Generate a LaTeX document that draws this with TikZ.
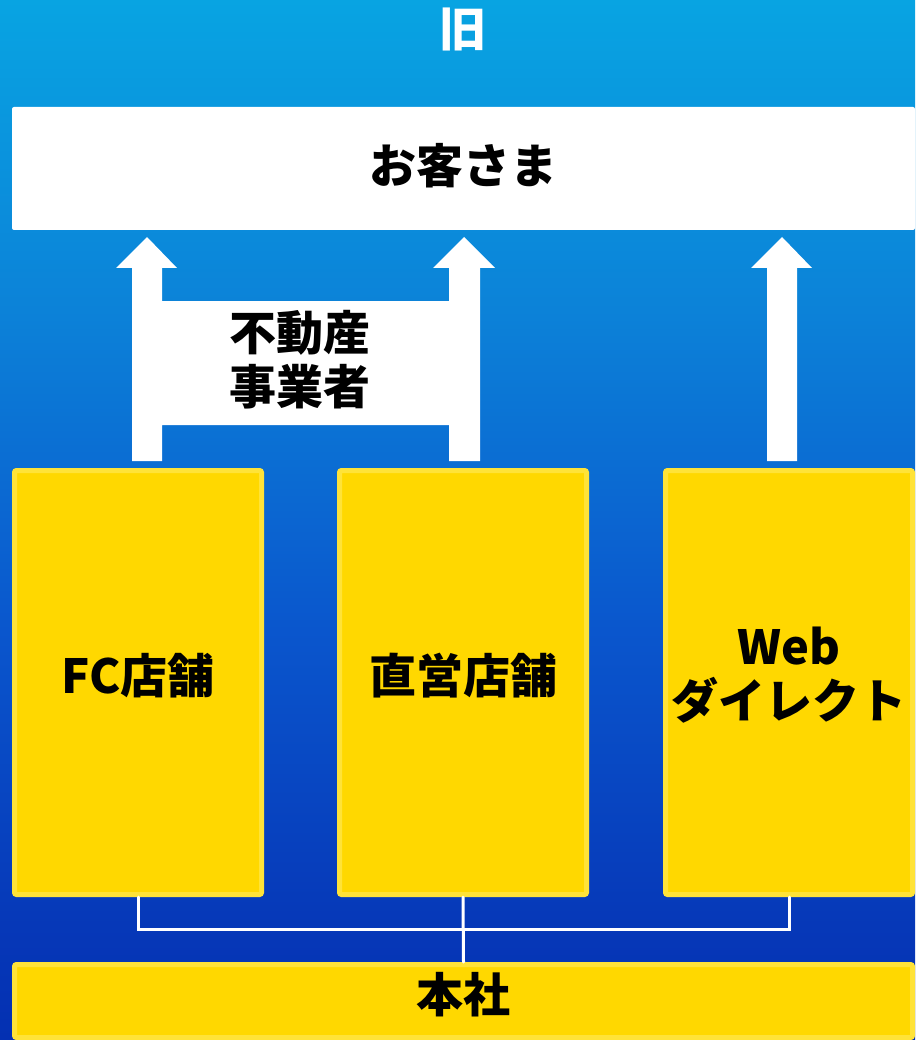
\documentclass[tikz,border=0pt]{standalone}
\usepackage{fontspec}
\newfontfamily\jp{Noto Sans CJK JP}
\definecolor{bg0}{RGB}{8,164,226}
\definecolor{bg1}{RGB}{12,130,216}
\definecolor{bg2}{RGB}{10,86,205}
\definecolor{bg3}{RGB}{6,56,184}
\definecolor{bg4}{RGB}{4,48,178}
\definecolor{ybox}{RGB}{255,216,0}
\definecolor{yline}{RGB}{255,227,56}
\pgfdeclareverticalshading{bgshade}{100bp}{color(0bp)=(bg4); color(25bp)=(bg4); color(30.5bp)=(bg3); color(44.7bp)=(bg2); color(60.1bp)=(bg1); color(75bp)=(bg0); color(100bp)=(bg0)}
\tikzset{
  lbl/.style={font=\jp\bfseries\fontsize{47}{54}\selectfont, text=black, align=center},
  ybx/.style={draw=yline, fill=ybox, line width=5pt, rounded corners=2pt, inner sep=0pt},
  wbx/.style={fill=white, rounded corners=2pt, inner sep=0pt},
  blk/.style={fill=white},
  conn/.style={draw=white, line width=3pt, line cap=round}
}
\begin{document}
\begin{tikzpicture}[x=1pt,y=-1pt]
\useasboundingbox (0,0) rectangle (915,1040);
\fill[shading=bgshade] (0,0) rectangle (915,1040);
% title
\node[lbl, text=white] (title) at (463,29) {旧};
% customers
\node[wbx, minimum width=903pt, minimum height=123pt] (cust) at (463.5,168.5) {};
\node[lbl] at (463,166) {お客さま};
% H-shaped arrows (FC + direct via real estate agent)
\fill[blk] (132,461) -- (132,268) -- (116,268) -- (147,237) -- (177,268) -- (162,268)
  -- (162,301) -- (449,301) -- (449,268) -- (433,268) -- (464,237) -- (495,268)
  -- (480,268) -- (480,461) -- (449,461) -- (449,425) -- (162,425) -- (162,461) -- cycle;
\node[lbl] (agent) at (300,360) {不動産\\事業者};
% web arrow
\fill[blk] (767,461) -- (767,268) -- (751,268) -- (782,237) -- (812,268) -- (797,268) -- (797,461) -- cycle;
% channel boxes
\node[ybx, minimum width=247pt, minimum height=424pt] (fc) at (138,682.5) {};
\node[lbl] at (138,676) {FC店舗};
\node[ybx, minimum width=247pt, minimum height=424pt] (mid) at (463,682.5) {};
\node[lbl] at (463,676) {直営店舗};
\node[ybx, minimum width=247pt, minimum height=424pt] (web) at (789,682.5) {};
\node[lbl] at (789,675) {Web\\ダイレクト};
% head office
\node[ybx, minimum width=898pt, minimum height=73pt] (hq) at (463.5,1001) {};
\node[lbl] at (463,995) {本社};
% connectors
\coordinate (bus) at (463,929);
\draw[conn] (fc.south) |- (bus) -| (web.south);
\draw[conn] (mid.south) -- (hq.north);
\end{tikzpicture}
\end{document}
